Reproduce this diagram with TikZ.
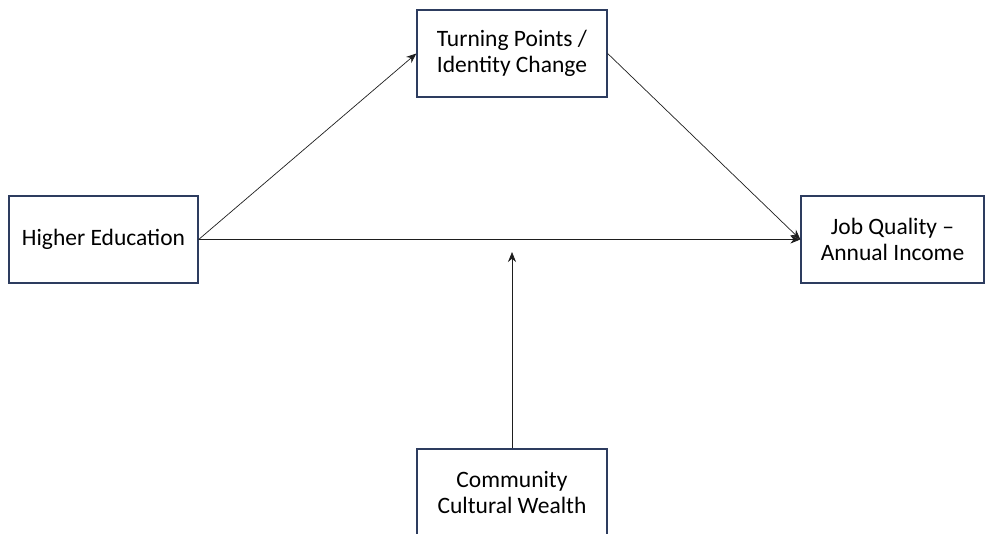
\documentclass[tikz,border=0pt]{standalone}
\usepackage{fontspec}
\setmainfont{Carlito}
\usetikzlibrary{arrows.meta}
\definecolor{boxline}{RGB}{45,60,95}
\definecolor{arrowline}{RGB}{30,30,30}
\tikzset{
  box/.style={draw=boxline, line width=1.3pt, fill=white, minimum width=190pt, minimum height=87pt, inner sep=0pt, align=center, font=\fontsize{23.5}{26}\selectfont, text=black},
  conn/.style={draw=arrowline, line width=0.7pt, -{Stealth[length=10pt,width=8pt]}}
}
\begin{document}
\begin{tikzpicture}[x=1pt,y=-1pt]
\useasboundingbox (0,0) rectangle (985,533);
\clip (0,0) rectangle (985,533);
\node[box, minimum width=189pt] (he) at (103.5,239.5) {Higher Education};
\node[box] (tp) at (512,53.5) {Turning Points /\\Identity Change};
\node[box, minimum width=183pt] (jq) at (892.5,239.5) {Job Quality --\\Annual Income};
\node[box] (cw) at (512,492.5) {Community\\Cultural Wealth};
\coordinate (m) at (512,252);
\draw[conn] (he.east) -- (tp.west);
\draw[conn] (tp.east) -- (jq.west);
\draw[conn] (he.east) -- (jq.west);
\draw[conn] (cw.north) -- (m);
\end{tikzpicture}
\end{document}
